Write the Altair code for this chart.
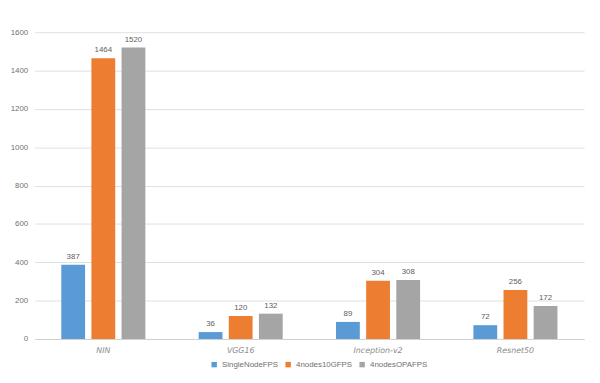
import altair as alt
import pandas as pd

models = ["NIN", "VGG16", "Inception-v2", "Resnet50"]
series = ["SingleNodeFPS", "4nodes10GFPS", "4nodesOPAFPS"]
single = [387, 36, 89, 72]
nodes10g = [1464, 120, 304, 256]
nodesopa = [1520, 132, 308, 172]
colors = ["#5B9BD5", "#ED7D31", "#A5A5A5"]

rows = []
for i, m in enumerate(models):
    for s, vals in zip(series, [single, nodes10g, nodesopa]):
        rows.append({"model": m, "series": s, "value": vals[i]})
df = pd.DataFrame(rows)

x = alt.X("model:N", sort=models, title=None,
          scale=alt.Scale(paddingInner=0.388, paddingOuter=0.194),
          axis=alt.Axis(labelAngle=0, labelFontStyle="italic", labelFont="DejaVu Sans",
                        labelFontSize=8, labelColor="#8A8A8A", ticks=False,
                        domainColor="#D0D0D0", labelPadding=8))
xo = alt.XOffset("series:N", sort=series, scale=alt.Scale(paddingInner=0.21))
y = alt.Y("value:Q", title=None,
          scale=alt.Scale(domain=[0, 1600]),
          axis=alt.Axis(values=list(range(0, 1601, 200)), format="d", domain=False, ticks=False,
                        gridColor="#E0E0E0", labelFontSize=8, labelColor="#707070",
                        labelFont="Liberation Sans", labelPadding=7))

bars = alt.Chart(df).mark_bar().encode(
    x=x, xOffset=xo, y=y,
    color=alt.Color("series:N", sort=series,
                    scale=alt.Scale(domain=series, range=colors),
                    legend=alt.Legend(title=None, orient="none", direction="horizontal",
                                      legendX=178, legendY=333, symbolType="square",
                                      symbolSize=30, labelFontSize=8, labelColor="#707070",
                                      labelFont="Liberation Sans", columnPadding=6,
                                      symbolStrokeWidth=0))
)
labels = alt.Chart(df).mark_text(dy=-8, fontSize=8, color="#606060", font="Liberation Sans").encode(
    x=x, xOffset=xo, y=y, text="value:Q"
)

chart = alt.layer(bars, labels).properties(
    width=557, height=311,
    autosize=alt.AutoSizeParams(type="none"),
    padding={"left": 27, "top": 22, "right": 8, "bottom": 34},
).configure_view(stroke=None)

chart.save("out.html", embed_options={"renderer": "svg", "actions": False})
